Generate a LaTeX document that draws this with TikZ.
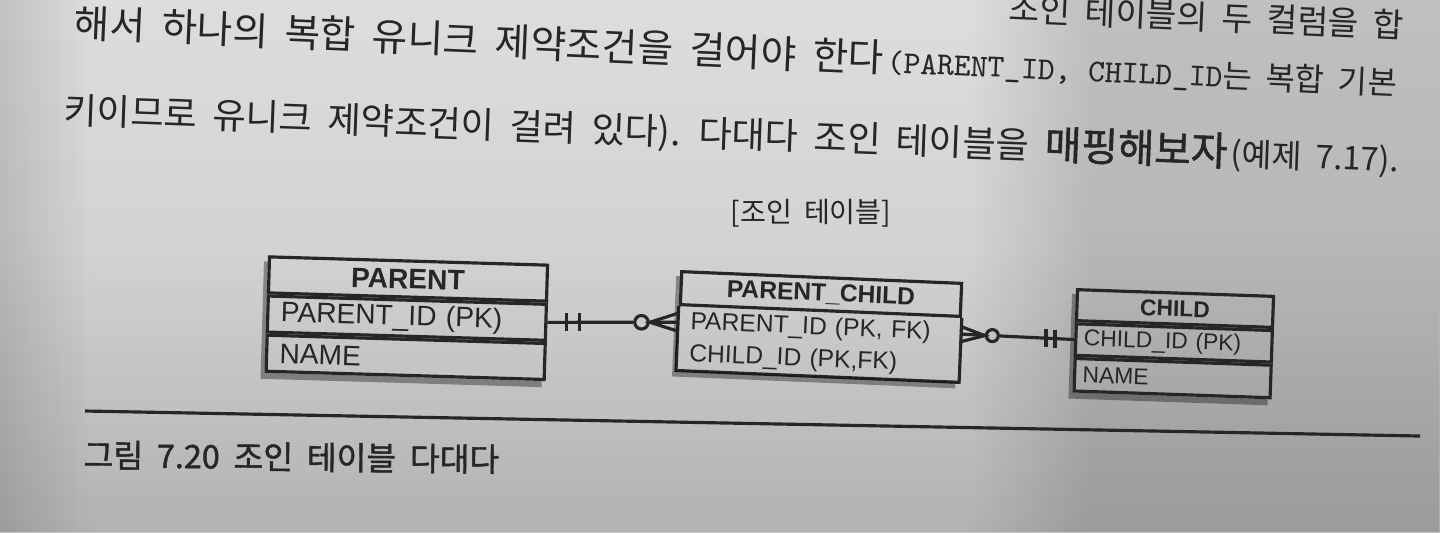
\documentclass[tikz,border=0pt]{standalone}
\usepackage{fontspec}
\setmainfont{Noto Sans CJK KR}[WordSpace=1.9]
\newfontfamily\heavy{Noto Sans CJK KR}[FakeBold=1.3,WordSpace=1.9]
\newfontfamily\erd{Liberation Sans}
\usetikzlibrary{positioning,calc,fadings}
\definecolor{ink}{HTML}{262626}
\definecolor{paperhi}{HTML}{DBDDDF}
\definecolor{paperlo}{HTML}{C6C7C8}
\begin{document}
\begin{tikzpicture}[x=0.01cm,y=-0.01cm,inner sep=0,line width=0.9pt,
  body/.style={text=ink,anchor=base west},
  ebox/.style={draw=ink,line width=0.9pt,text=ink},
  phead/.style={ebox,minimum width=2.78cm,minimum height=0.36cm,rotate=-1.7,font=\erd\bfseries\fontsize{8}{9}\selectfont},
  prow/.style={ebox,text width=2.52cm,inner xsep=0.13cm,minimum height=0.36cm,align=left,rotate=-1.7,font=\erd\fontsize{8}{9}\selectfont},
  chead/.style={ebox,minimum width=2.80cm,minimum height=0.33cm,rotate=-2.4,font=\erd\bfseries\fontsize{7}{8}\selectfont},
  crow/.style={text=ink,text width=2.58cm,inner xsep=0.11cm,minimum height=0.29cm,align=left,rotate=-2.4,font=\erd\fontsize{7}{8}\selectfont},
  dhead/.style={ebox,minimum width=1.96cm,minimum height=0.31cm,rotate=-1.96,font=\erd\bfseries\fontsize{6.5}{7.5}\selectfont},
  drow/.style={ebox,text width=1.80cm,inner xsep=0.08cm,minimum height=0.315cm,align=left,rotate=-1.96,font=\erd\fontsize{6.5}{7.5}\selectfont},
  ring/.style={circle,draw=ink,line width=0.9pt,minimum size=0.135cm},
  shadow/.style={fill=black,opacity=0.35}]
\useasboundingbox (0,0) rectangle (1440,532);
\clip (0,0) rectangle (1440,532);
\shade[top color=paperhi,bottom color=paperlo] (0,0) rectangle (1440,532);
\fill[black,opacity=0.13,path fading=west] (970,0) rectangle (1090,532);
\fill[black,opacity=0.13] (1090,0) rectangle (1440,532);
\fill[black,opacity=0.10,path fading=north] (0,250) rectangle (1440,532);
\fill[black,opacity=0.12,path fading=east] (0,0) rectangle (90,532);

\node[body,anchor=base east,rotate=-2.5,font=\fontsize{9.5}{11}\selectfont] (l0) at (1405,38) {조인 테이블의 두 컬럼을 합};
\node[body,rotate=-2.5,font=\fontsize{11}{13}\selectfont] (l1a) at (72,37) {해서 하나의 복합 유니크 제약조건을 걸어야 한다};
\node[body,rotate=-2.5,font=\fontsize{9.1}{11}\selectfont] (l1b) at (l1a.base east) {{\ttfamily(PARENT\_ID, CHILD\_ID}는 복합 기본};
\node[body,rotate=-2.1,font=\fontsize{10.3}{12}\selectfont] (l2a) at (62,123) {키이므로 유니크 제약조건이 걸려 있다). 다대다 조인 테이블을 {\heavy\fontsize{11.3}{13}\selectfont 매핑해보자}};
\node[body,rotate=-2.1,font=\fontsize{9.3}{11}\selectfont] (l2b) at (l2a.base east) {(예제 7.17).};

\node[text=ink,font=\fontsize{8}{9}\selectfont] (jt) at (811,213) {[조인 테이블]};

\node[phead] (par) at (408,279) {PARENT};
\node[prow,below=0pt of par] (parid) {PARENT\_ID (PK)};
\node[prow,below=0pt of parid] (parname) {NAME};

\node[chead] (pc) at (821,294) {PARENT\_CHILD};
\node[crow,below=0pt of pc] (pcpid) {PARENT\_ID (PK, FK)};
\node[crow,below=0pt of pcpid] (pccid) {CHILD\_ID (PK,FK)};
\draw[ink] (pcpid.north west) -- (pccid.south west) -- (pccid.south east) -- (pcpid.north east);

\node[dhead] (chi) at (1175,308.5) {CHILD};
\node[drow,below=0pt of chi] (cid) {CHILD\_ID (PK)};
\node[drow,below=0pt of cid,minimum height=0.325cm] (cname) {NAME};

\fill[shadow] ($(par.north west)+(-4,6)$) -- ($(parname.south west)+(-4,6)$) -- ($(parname.south east)+(-4,6)$) -- ($(parname.south east)+(-4,0)$) -- (parname.south west) -- ($(par.north west)+(0,6)$) -- cycle;
\fill[shadow] ($(pc.north west)+(-4,6)$) -- ($(pccid.south west)+(-4,6)$) -- ($(pccid.south east)+(-4,6)$) -- ($(pccid.south east)+(-4,0)$) -- (pccid.south west) -- ($(pc.north west)+(0,6)$) -- cycle;
\fill[shadow] ($(chi.north west)+(-4,6)$) -- ($(cname.south west)+(-4,6)$) -- ($(cname.south east)+(-4,6)$) -- ($(cname.south east)+(-4,0)$) -- (cname.south west) -- ($(chi.north west)+(0,6)$) -- cycle;

\node[ring] (o1) at ($(parid.east)!0.72!(pcpid.west)$) {};
\draw[ink] (parid.east) -- (o1);
\draw[ink] (o1) -- (pcpid.west);
\draw[ink] ($(pcpid.west)+(0,-9)$) -- (o1.east) -- ($(pcpid.west)+(0,9)$);
\coordinate (b1) at ($(parid.east)!0.145!(pcpid.west)$);
\coordinate (b2) at ($(parid.east)!0.245!(pcpid.west)$);
\draw[ink] ($(b1)+(0,-9)$) -- ($(b1)+(0,9)$);
\draw[ink] ($(b2)+(0,-9)$) -- ($(b2)+(0,9)$);

\node[ring,minimum size=0.12cm] (o2) at ($(pcpid.east)!0.276!(cid.west)$) {};
\draw[ink] (pcpid.east) -- (o2);
\draw[ink] (o2) -- (cid.west);
\draw[ink] ($(pcpid.east)+(0,-7.5)$) -- (o2.west) -- ($(pcpid.east)+(0,7.5)$);
\coordinate (b3) at ($(pcpid.east)!0.75!(cid.west)$);
\coordinate (b4) at ($(pcpid.east)!0.83!(cid.west)$);
\draw[ink] ($(b3)+(0,-9)$) -- ($(b3)+(0,9)$);
\draw[ink] ($(b4)+(0,-9)$) -- ($(b4)+(0,9)$);

\coordinate (r1) at (85,411);
\coordinate (r2) at (1420,436);
\draw[ink] (r1) -- (r2);
\node[body,rotate=-0.6,font=\heavy\fontsize{9.2}{11}\selectfont] (cap) at (82,467) {그림 7.20 조인 테이블 다대다};
\end{tikzpicture}
\end{document}
